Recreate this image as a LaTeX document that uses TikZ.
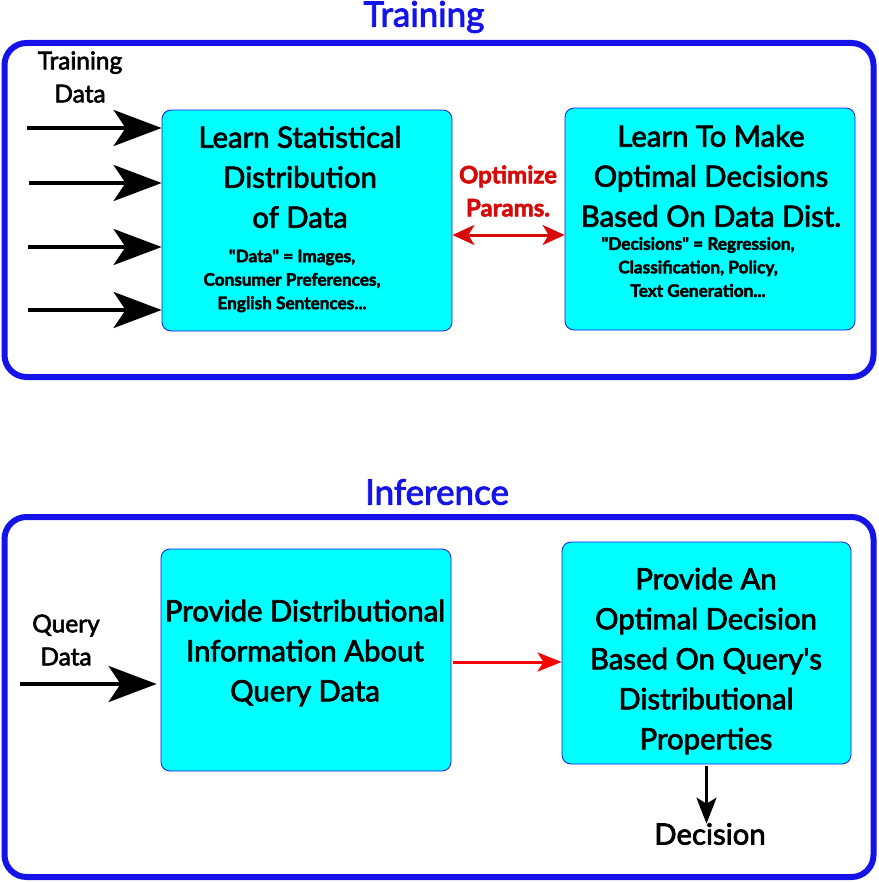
\documentclass[tikz,border=0pt]{standalone}
\usepackage{fontspec}
\setmainfont{Lato}[FakeBold=2.5]
\usetikzlibrary{arrows.meta,positioning}
\definecolor{frameblue}{RGB}{20,20,232}
\definecolor{boxcyan}{RGB}{0,255,255}
\definecolor{optred}{RGB}{215,10,10}
\definecolor{flowred}{RGB}{250,0,0}
\tikzset{frame/.style={rectangle,draw=frameblue,line width=6pt,rounded corners=22pt},
stage/.style={rectangle,draw=frameblue,fill=boxcyan,line width=0.8pt,rounded corners=9pt},
heading/.style={text=frameblue,font=\fontsize{35}{35}\selectfont},
big/.style={align=center,font=\fontsize{29.3}{40}\selectfont},
small/.style={align=center,font=\fontsize{17.2}{23.5}\selectfont\bfseries},
side/.style={align=center,font=\fontsize{24.5}{33}\selectfont},
feed/.style={line width=4pt,-{Stealth[length=48pt,width=36pt,inset=12pt]}},
optim/.style={draw=optred,line width=3pt,{Stealth[length=22pt,width=20pt,inset=6pt]}-{Stealth[length=22pt,width=20pt,inset=6pt]}},
pass/.style={draw=flowred,line width=3pt,-{Stealth[length=24pt,width=19pt,inset=6pt]}},
verdict/.style={line width=3pt,-{Stealth[length=26pt,width=20pt,inset=6pt]}}}
\begin{document}
\begin{tikzpicture}[x=1pt,y=-1pt]
  \useasboundingbox (0,0) rectangle (878,883);

  \node (trainbox) [frame,minimum width=869pt,minimum height=334pt] at (439,210) {};
  \node (train) [heading] at (424,17) {Training};
  \node (stat) [stage,minimum width=290pt,minimum height=221pt] at (307,220.5) {};
  \node (decide) [stage,minimum width=290pt,minimum height=222pt] at (710,219) {};
  \node (statT) [big] at (300,177) {Learn Statistical\\Distribution\\of Data};
  \node (statS) [small] at (292,281) {\textquotedbl Data\textquotedbl{} = Images,\\Consumer Preferences,\\English Sentences...};
  \node (decT) [big] at (711,176) {Learn To Make\\Optimal Decisions\\Based On Data Dist.};
  \node (decS) [small] at (698,267) {\textquotedbl Decisions\textquotedbl{} = Regression,\\Classification, Policy,\\Text Generation...};
  \node (tdata) [side] at (80,77) {Training\\Data};
  \node (param) [side,text=optred,font=\fontsize{24}{33}\selectfont\bfseries] at (508,191) {Optimize\\Params.};

  \coordinate (in1) at (27,128);
  \coordinate (in2) at (29,183);
  \coordinate (in3) at (28,247);
  \coordinate (in4) at (28,310);
  \coordinate (optY) at (0,235);
  \draw [feed] (in1) -- (in1 -| stat.west);
  \draw [feed] (in2) -- (in2 -| stat.west);
  \draw [feed] (in3) -- (in3 -| stat.west);
  \draw [feed] (in4) -- (in4 -| stat.west);
  \draw [optim] (stat.east |- optY) -- (decide.west |- optY);

  \node (inferbox) [frame,minimum width=869pt,minimum height=360pt] at (439,697) {};
  \node (infer) [heading] at (437,492) {Inference};
  \node (info) [stage,minimum width=290pt,minimum height=222pt] at (306,660) {};
  \node (answer) [stage,minimum width=289pt,minimum height=222pt] at (706.5,653) {};
  \node (infoT) [big] at (305,653) {Provide Distributional\\Information About\\Query Data};
  \node (answerT) [big] at (706,661) {Provide An\\Optimal Decision\\Based On Query\textquotesingle s\\Distributional\\Properties};
  \node (qdata) [side] at (66,640) {Query\\Data};
  \node (decision) [big] at (710,834) {Decision};

  \coordinate (qin) at (20,684);
  \coordinate (passY) at (0,662);
  \draw [feed] (qin) -- ([xshift=-4pt]qin -| info.west);
  \draw [pass] ([xshift=2pt]info.east |- passY) -- (answer.west |- passY);
  \draw [verdict] ([yshift=-2pt]answer.south) -- ([yshift=-4pt]answer.south |- decision.north);
\end{tikzpicture}
\end{document}
